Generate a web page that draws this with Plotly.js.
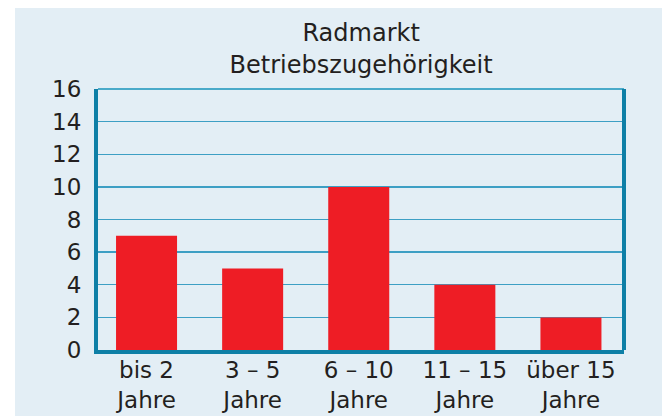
<!DOCTYPE html>
<html><head><meta charset="utf-8">
<script src="https://cdn.plot.ly/plotly-3.0.1.min.js"></script>
<style>
html,body{margin:0;padding:0;background:#ffffff;}
#chart{position:absolute;left:15px;top:8px;width:647px;height:408px;}
</style></head>
<body><div id="chart"></div>
<script>
const categories = ["bis 2<br>Jahre", "3 – 5<br>Jahre", "6 – 10<br>Jahre", "11 – 15<br>Jahre", "über 15<br>Jahre"];
const values = [7, 5, 10, 4, 2];
const yTicks = [0, 2, 4, 6, 8, 10, 12, 14, 16];
const titleText = "Radmarkt<br>Betriebszugehörigkeit";

const font = "DejaVu Sans, sans-serif";
const textColor = "#231F20";
const axisColor = "#0E7FA6";

const trace = {
  type: "bar",
  x: categories,
  y: values,
  marker: {color: "#EE1D25", line: {width: 0}},
  width: 0.575,
  hoverinfo: "skip"
};

const layout = {
  width: 647, height: 408,
  paper_bgcolor: "#E3EEF5",
  plot_bgcolor: "#E3EEF5",
  margin: {l: 83, r: 38, t: 81, b: 66},
  showlegend: false,
  title: {
    text: titleText,
    font: {family: font, size: 24, color: textColor},
    x: 0.535, xanchor: "center",
    yref: "container",
    y: 0.918, yanchor: "middle"
  },
  xaxis: {
    type: "category",
    range: [-0.4575, 4.5],
    showgrid: false,
    showline: true, linecolor: axisColor, linewidth: 4,
    ticks: "",
    ticklabelstandoff: -4,
    tickfont: {family: font, size: 23, color: textColor},
    zeroline: false,
    fixedrange: true
  },
  yaxis: {
    range: [0, 16],
    tickvals: yTicks,
    ticktext: yTicks.map(String),
    showgrid: true, gridcolor: "#3D9FC4", gridwidth: 1.3,
    showline: true, linecolor: axisColor, linewidth: 4,
    ticks: "",
    ticklabelstandoff: 8,
    tickfont: {family: font, size: 23, color: textColor},
    zeroline: false,
    fixedrange: true
  },
  shapes: [
    {type: "line", xref: "paper", yref: "paper", x0: 0, x1: 1, y0: 1, y1: 1,
     line: {color: "#4AAAC9", width: 2}},
    {type: "line", xref: "paper", yref: "paper", x0: 1, x1: 1, y0: 0, y1: 1,
     line: {color: axisColor, width: 4}}
  ]
};

Plotly.newPlot("chart", [trace], layout, {displayModeBar: false, staticPlot: true});
</script></body></html>
